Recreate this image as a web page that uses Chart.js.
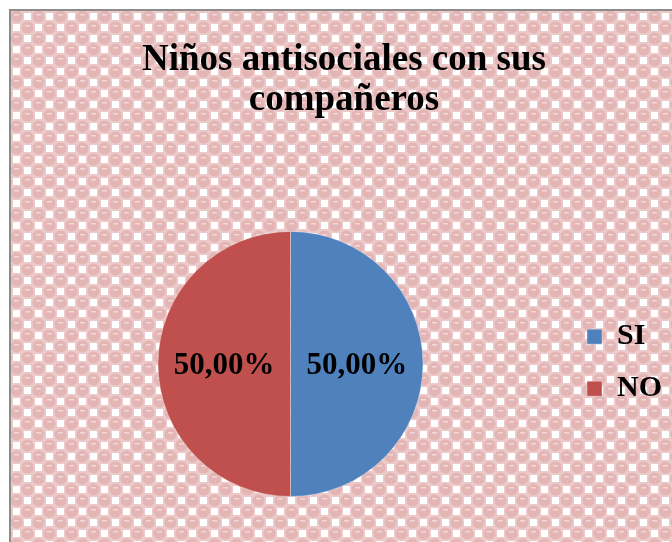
<!DOCTYPE html>
<html>
<head>
<meta charset="utf-8">
<script src="https://cdn.jsdelivr.net/npm/chart.js@4.4.1/dist/chart.umd.min.js"></script>
<style>
  html, body { margin: 0; padding: 0; background: #ffffff; }
  #wrap { width: 672px; height: 542px; position: relative; }
</style>
</head>
<body>
<div id="wrap"><canvas id="c" width="672" height="542"></canvas></div>
<script>
const categories = ['SI', 'NO'];
const values = [50.00, 50.00];
const valueLabels = ['50,00%', '50,00%'];
const titleLines = ['Niños antisociales con sus', 'compañeros'];
const colors = ['#4F81BD', '#C0504D'];

function makePattern(ctx) {
  const t = document.createElement('canvas');
  t.width = 22; t.height = 22;
  const g = t.getContext('2d');
  g.fillStyle = '#ECCACA';
  g.fillRect(0, 0, 22, 22);
  function blob(x, y) {
    g.fillStyle = '#E4B5B5';
    g.beginPath();
    g.arc(x + 5.5, y + 5.5, 6, 0, Math.PI * 2);
    g.fill();
    g.fillStyle = '#F2D8D8';
    g.fillRect(x + 3, y + 3, 5, 1.5);
  }
  function white(x, y) {
    g.fillStyle = '#FFFFFF';
    g.fillRect(x + 2, y + 2, 7, 7);
  }
  blob(0, 0); blob(11, 11);
  blob(22, 22); blob(-11, 11); blob(11, -11); blob(-11, -11); blob(22, 0); blob(0, 22);
  white(11, 0); white(0, 11);
  return ctx.createPattern(t, 'repeat');
}

const bgPlugin = {
  id: 'bgPattern',
  beforeDraw(chart) {
    const ctx = chart.ctx;
    ctx.save();
    const p = makePattern(ctx);
    ctx.translate(11, 11);
    ctx.fillStyle = p;
    ctx.fillRect(0, 0, chart.width - 11, chart.height - 11);
    ctx.restore();
    ctx.save();
    ctx.strokeStyle = '#8C8C8C';
    ctx.lineWidth = 2;
    ctx.beginPath();
    ctx.moveTo(10, chart.height);
    ctx.lineTo(10, 10);
    ctx.lineTo(chart.width, 10);
    ctx.stroke();
    ctx.restore();
  }
};

const labelPlugin = {
  id: 'sliceLabels',
  afterDatasetsDraw(chart) {
    const ctx = chart.ctx;
    const meta = chart.getDatasetMeta(0);
    ctx.save();
    ctx.font = 'bold 31px "Liberation Serif", "Times New Roman", serif';
    ctx.fillStyle = '#000';
    ctx.textAlign = 'center';
    ctx.textBaseline = 'middle';
    meta.data.forEach((arc, i) => {
      const pos = arc.tooltipPosition();
      ctx.fillText(valueLabels[i], pos.x, pos.y + 2);
    });
    ctx.restore();
  }
};

new Chart(document.getElementById('c'), {
  type: 'pie',
  data: {
    labels: categories,
    datasets: [{
      data: values,
      backgroundColor: colors,
      borderColor: 'rgba(255,255,255,0.35)',
      borderWidth: 1
    }]
  },
  options: {
    responsive: false,
    animation: false,
    layout: { padding: { top: 10, left: 16, right: 0, bottom: 45 } },
    plugins: {
      tooltip: { enabled: false },
      title: {
        display: true,
        text: titleLines,
        color: '#000',
        font: { family: '"Liberation Serif", "Times New Roman", serif', size: 37, weight: 'bold', lineHeight: 1.08 },
        padding: { top: 30, bottom: 111 }
      },
      legend: {
        display: true,
        position: 'right',
        maxWidth: 113,
        title: {
          display: true,
          text: ' ',
          font: { size: 12 },
          padding: { top: 204, bottom: 0 }
        },
        labels: {
          color: '#000',
          font: { family: '"Liberation Serif", "Times New Roman", serif', size: 30, weight: 'bold' },
          boxWidth: 15,
          boxHeight: 15,
          padding: 22
        }
      }
    }
  },
  plugins: [bgPlugin, labelPlugin]
});
</script>
</body>
</html>
